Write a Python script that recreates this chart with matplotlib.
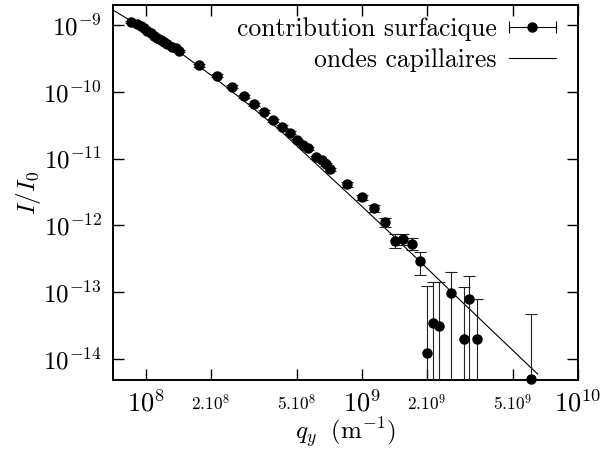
import matplotlib
matplotlib.use("Agg")
import matplotlib.pyplot as plt
import numpy as np
from matplotlib.lines import Line2D
from matplotlib.legend_handler import HandlerLine2D, HandlerTuple
from matplotlib.ticker import FixedLocator, FixedFormatter, NullLocator

plt.rcParams['font.family'] = 'cmr10'
plt.rcParams['mathtext.fontset'] = 'cm'
plt.rcParams['axes.formatter.use_mathtext'] = True

# donnees
q = [8.50e7, 9.06e7, 9.45e7, 9.82e7, 1.007e8, 1.051e8, 1.089e8, 1.128e8, 1.170e8, 1.211e8,
     1.255e8, 1.315e8, 1.373e8, 1.422e8, 1.765e8, 2.125e8, 2.49e8, 2.84e8, 3.16e8, 3.53e8,
     3.88e8, 4.25e8, 4.64e8, 5.02e8, 5.35e8, 5.64e8, 6.12e8, 6.51e8, 6.81e8, 7.11e8,
     8.55e8, 9.97e8, 1.137e9, 1.278e9, 1.421e9, 1.549e9, 1.704e9, 1.856e9, 2.00e9, 2.13e9,
     2.27e9, 2.58e9, 2.965e9, 3.13e9, 3.40e9, 6.06e9]
I = [1.10e-9, 1.02e-9, 9.56e-10, 8.93e-10, 8.13e-10, 7.59e-10, 6.92e-10, 6.45e-10, 6.02e-10, 5.62e-10,
     5.14e-10, 4.73e-10, 4.47e-10, 4.12e-10, 2.51e-10, 1.74e-10, 1.19e-10, 8.62e-11, 6.47e-11, 5.01e-11,
     3.77e-11, 2.99e-11, 2.43e-11, 1.89e-11, 1.59e-11, 1.42e-11, 1.04e-11, 9.46e-12, 8.24e-12, 6.87e-12,
     4.09e-12, 2.61e-12, 1.80e-12, 1.11e-12, 5.78e-13, 6.19e-13, 5.21e-13, 2.90e-13, 1.21e-14, 3.40e-14,
     3.07e-14, 9.59e-14, 1.96e-14, 7.80e-14, 1.96e-14, 4.93e-15]
I_hi = [1.144e-9, 1.061e-9, 9.94e-10, 9.29e-10, 8.46e-10, 7.89e-10, 7.20e-10, 6.71e-10, 6.26e-10, 5.84e-10,
        5.35e-10, 4.92e-10, 4.65e-10, 4.28e-10, 2.64e-10, 1.83e-10, 1.25e-10, 9.05e-11, 6.79e-11, 5.26e-11,
        3.96e-11, 3.14e-11, 2.55e-11, 1.98e-11, 1.67e-11, 1.49e-11, 1.09e-11, 9.93e-12, 8.65e-12, 7.21e-12,
        4.42e-12, 2.82e-12, 2.02e-12, 1.28e-12, 7.28e-13, 7.40e-13, 6.47e-13, 3.99e-13, 1.22e-13, 1.42e-13,
        1.39e-13, 1.96e-13, 1.17e-13, 1.74e-13, 7.98e-14, 4.75e-14]
I_lo = [1.056e-9, 9.79e-10, 9.18e-10, 8.57e-10, 7.80e-10, 7.29e-10, 6.64e-10, 6.19e-10, 5.78e-10, 5.40e-10,
        4.93e-10, 4.54e-10, 4.29e-10, 3.96e-10, 2.38e-10, 1.65e-10, 1.13e-10, 8.19e-11, 6.15e-11, 4.76e-11,
        3.58e-11, 2.84e-11, 2.31e-11, 1.80e-11, 1.51e-11, 1.35e-11, 9.9e-12, 8.99e-12, 7.83e-12, 6.53e-12,
        3.76e-12, 2.40e-12, 1.58e-12, 9.37e-13, 4.49e-13, 5.00e-13, 4.24e-13, 1.79e-13, 1e-16, 1e-16,
        1e-16, 1e-16, 1e-16, 1e-16, 1e-16, 1e-16]

# courbe ondes capillaires
q_fit = [7.03e7, 1.0e8, 1.435e8, 2.04e8, 2.94e8, 4.17e8, 5.93e8, 9.79e8, 1.393e9, 1.858e9, 2.84e9, 6.5e9]
I_fit = [1.679e-9, 8.45e-10, 3.88e-10, 1.694e-10, 6.70e-11, 2.66e-11, 9.20e-12, 2.04e-12, 6.97e-13,
         2.85e-13, 7.60e-14, 5.9e-15]

xticks = [1e8, 2e8, 5e8, 1e9, 2e9, 5e9, 1e10]
xlabels = [r'$10^{8}$', r'$2.10^{8}$', r'$5.10^{8}$', r'$10^{9}$', r'$2.10^{9}$', r'$5.10^{9}$', r'$10^{10}$']
yticks = [1e-14, 1e-13, 1e-12, 1e-11, 1e-10, 1e-9]
ylabels = [r'$10^{-14}$', r'$10^{-13}$', r'$10^{-12}$', r'$10^{-11}$', r'$10^{-10}$', r'$10^{-9}$']

fig = plt.figure(figsize=(6.01, 4.49), dpi=100)
ax = fig.add_axes([0.188, 0.1537, 0.7737, 0.8352])

I_arr = np.array(I)
yerr = [I_arr - np.array(I_lo), np.array(I_hi) - I_arr]
ax.errorbar(q, I, yerr=yerr, fmt='none', ecolor='#222222', elinewidth=0.8,
            capsize=4.3, capthick=0.8, zorder=3)
ax.plot(q, I, 'o', color='black', ms=6.5, clip_on=False, zorder=4)
ax.plot(q_fit, I_fit, color='black', lw=0.8, zorder=2)

ax.set_xscale('log')
ax.set_yscale('log')
ax.set_xlim(7.03e7, 1e10)
ax.set_ylim(4.8e-15, 2.0e-9)

ax.xaxis.set_major_locator(FixedLocator(xticks))
ax.xaxis.set_major_formatter(FixedFormatter(xlabels))
ax.xaxis.set_minor_locator(NullLocator())
ax.yaxis.set_major_locator(FixedLocator(yticks))
ax.yaxis.set_major_formatter(FixedFormatter(ylabels))
ax.yaxis.set_minor_locator(NullLocator())

ax.tick_params(which='both', direction='in', top=True, right=True, length=8, width=1.0)
ax.tick_params(axis='y', labelsize=18, pad=8)
ax.tick_params(axis='x', labelsize=18, pad=17)
for t, lab in zip(ax.xaxis.get_major_ticks(), xlabels):
    t.label1.set_verticalalignment('center')
    if lab.startswith(r'$10'):
        t.label1.set_fontsize(19)
    else:
        t.label1.set_fontsize(12.5)
for s in ax.spines.values():
    s.set_linewidth(1.4)

ax.set_xlabel(r'$q_y\ \ (\mathrm{m}^{-1})$', fontsize=18, labelpad=-1)
ax.set_ylabel(r'$I/I_0$', fontsize=18, labelpad=0)

# legende style gnuplot
h_pt = Line2D([], [], color='black', lw=0.8, marker='o', ms=6.5)
h_caps = Line2D([], [], color='black', ls='none', marker='|', ms=8, mew=0.8)
h_fit = Line2D([], [], color='black', lw=0.8)
ax.legend([(h_pt, h_caps), h_fit], ['contribution surfacique', 'ondes capillaires'],
          handler_map={h_caps: HandlerLine2D(numpoints=2, marker_pad=0),
                       tuple: HandlerTuple(ndivide=1, pad=0)},
          loc='upper right', bbox_to_anchor=(0.974, 0.995), frameon=False,
          markerfirst=False, fontsize=18.5, handlelength=1.8, handletextpad=0.5,
          labelspacing=0.3, borderaxespad=0.0)

fig.savefig('out.png', dpi=100)
